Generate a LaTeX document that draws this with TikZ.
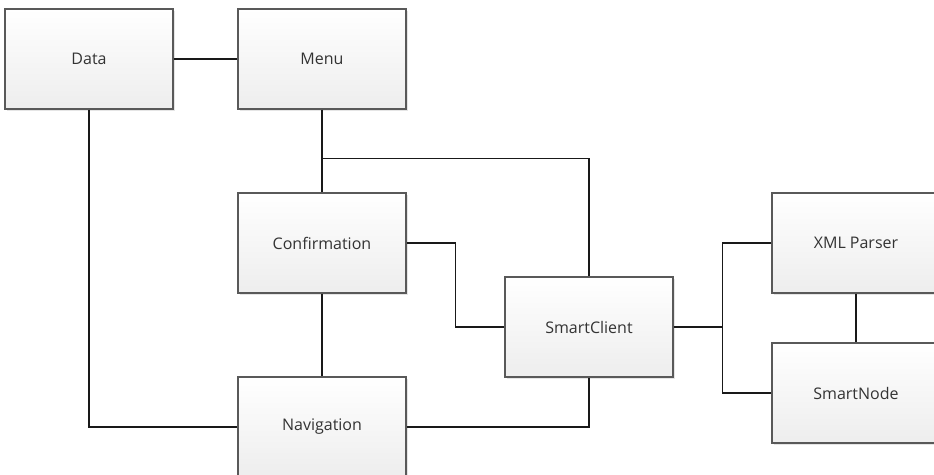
\documentclass[tikz,border=0pt]{standalone}
\usepackage{fontspec}
\setmainfont{Open Sans}
\usetikzlibrary{positioning}
\usetikzlibrary{calc}
\usetikzlibrary{shadows}
\colorlet{box colour}{black!65}
\colorlet{box top colour}{white}
\colorlet{box bottom colour}{black!7}
\colorlet{text colour}{black!80}
\colorlet{link colour}{black!90}
\tikzset{
    % Define a set of styles
    % First the box fill, a soft vertical shade
    shaded fill/.style={top color=box top colour, bottom color=box bottom colour},
    % Next the lines
    link/.style={color=link colour, line width=1.2pt},
%
    % We almost always want centre aligned node text
    every node/.style={align=center},
}

\begin{document}
\begin{tikzpicture}[
    x=1pt, y=-1pt,
    box/.style={draw=box colour, line width=1.1pt, shaded fill,
        drop shadow={shadow xshift=1.5pt, shadow yshift=-1.5pt, fill=black!10, opacity=1},
        minimum width=168pt, minimum height=100pt, inner sep=0,
        text=text colour, font=\fontsize{16}{19}\selectfont},
    ]

% This path defines the extent of the diagram, the lower and right boxes are cut
\useasboundingbox (0,0) rectangle (934,474);
\clip (0,0) rectangle (934,474);

% Left column
\node [box] (data) at (89,59) {Data};

% Middle column
\node [box] (menu) at (322,59) {Menu};
\node [box] (confirmation) at (322,243) {Confirmation};
\node [box] (navigation) at (322,427) {Navigation};

% Client in the centre
\node [box] (smartclient) at (589,327) {SmartClient};

% Right column
\node [box] (xml parser) at (856,243) {XML Parser};
\node [box] (smartnode) at (856,393) {SmartNode};

% Links between the boxes
\draw [link] (data) -- (menu);
\draw [link] (data.south) |- (navigation.west);
\draw [link] (menu) -- (confirmation);
\draw [link] (confirmation) -- (navigation);
\coordinate (menu split) at ($(menu.south)+(0,49)$);
\draw [link] (menu split) -| (smartclient.north);
\draw [link] (confirmation.east)
    -| ($(confirmation.east)!0.5!(smartclient.west)$) |- (smartclient.west);
\draw [link] (navigation.east) -| (smartclient.south);

% Bus out to the parser and the node
\coordinate (bus) at ($(smartclient.east)!0.5!(xml parser.west |- smartclient.east)$);
\draw [link] (smartclient.east) -- (bus);
\draw [link] (xml parser.west) -| (bus) |- (smartnode.west);
\draw [link] (xml parser) -- (smartnode);

\end{tikzpicture}
\end{document}
